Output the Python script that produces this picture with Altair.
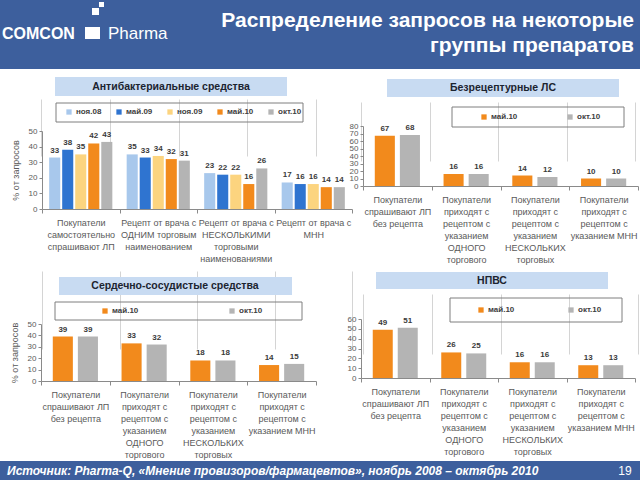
import altair as alt
import pandas as pd

FONT = "Liberation Sans"
BLUE = "#3d5f9d"
TITLE_FILL = "#c8dbf2"
LABEL_GRAY = "#5a5a5a"

# ---------------- data ----------------
ab_cats = [
    "Покупатели\nсамостоятельно\nспрашивают ЛП",
    "Рецепт от врача с\nОДНИМ торговым\nнаименованием",
    "Рецепт от врача с\nНЕСКОЛЬКИМИ\nторговыми\nнаименованиями",
    "Рецепт от врача с\nМНН",
]
ab_series = ["ноя.08", "май.09", "ноя.09", "май.10", "окт.10"]
ab_colors = ["#a8c8ec", "#2f74d0", "#fcd47f", "#f28a1c", "#b4b4b4"]
ab_nov08 = [33, 35, 23, 17]
ab_may09 = [38, 33, 22, 16]
ab_nov09 = [35, 34, 22, 16]
ab_may10 = [42, 32, 16, 14]
ab_oct10 = [43, 31, 26, 14]

pair_cats = [
    "Покупатели\nспрашивают ЛП\nбез рецепта",
    "Покупатели\nприходят с\nрецептом с\nуказанием\nОДНОГО\nторгового",
    "Покупатели\nприходят с\nрецептом с\nуказанием\nНЕСКОЛЬКИХ\nторговых",
    "Покупатели\nприходят с\nрецептом с\nуказанием МНН",
]
pair_series = ["май.10", "окт.10"]
pair_colors = ["#f28a1c", "#b4b4b4"]

otc_may10 = [67, 16, 14, 10]
otc_oct10 = [68, 16, 12, 10]
cv_may10 = [39, 33, 18, 14]
cv_oct10 = [39, 32, 18, 15]
nsaid_may10 = [49, 26, 16, 13]
nsaid_oct10 = [51, 25, 16, 13]

ONE = pd.DataFrame({"k": [0]})


def make_df(cats, series, cols):
    rows = []
    for s, vals in zip(series, cols):
        for c, v in zip(cats, vals):
            rows.append({"cat": c, "ser": s, "val": v})
    return pd.DataFrame(rows)


def rect(x1, x2, y1, y2, **mk):
    return alt.Chart(ONE).mark_rect(**mk).encode(
        x=alt.value(x1), x2=alt.value(x2), y=alt.value(y1), y2=alt.value(y2)
    )


def text(t, x, y, **mk):
    mk.setdefault("font", FONT)
    return alt.Chart(ONE).mark_text(text=t, **mk).encode(x=alt.value(x), y=alt.value(y))


def panel(df, cats, series, colors, xr, yr, ymax, pad_in, pad_out,
          leg_x, leg_y, leg_pad, ytitle=None):
    x = alt.X(
        "cat:N", sort=cats, title=None,
        scale=alt.Scale(range=list(xr), paddingInner=0, paddingOuter=0),
        axis=alt.Axis(
            orient="bottom", offset=yr[0] - 480,
            labelExpr="split(datum.label, '\\n')",
            labelAngle=0, labelFont=FONT, labelFontSize=9, labelColor=LABEL_GRAY,
            labelLineHeight=12, labelPadding=5, labelOverlap=False, labelBound=False,
            labelLimit=300, labelBaseline="top",
            tickBand="extent", grid=True, gridColor="#d4d4d4", gridWidth=1,
            domainColor="#8a8a8a", tickColor="#8a8a8a", tickSize=4,
        ),
    )
    xo = alt.XOffset("ser:N", sort=series,
                     scale=alt.Scale(paddingInner=pad_in, paddingOuter=pad_out))
    y_axis = alt.Axis(
        orient="left", offset=-xr[0], values=list(range(0, ymax + 1, 10)),
        grid=False, labelFont=FONT, labelFontSize=8, labelColor=LABEL_GRAY,
        labelOverlap=False, labelPadding=2, tickSize=3, tickColor="#8a8a8a",
        domainColor="#8a8a8a",
        titleFont=FONT, titleFontSize=9, titleFontWeight="normal",
        titleColor=LABEL_GRAY, titlePadding=8,
    )
    y = alt.Y("val:Q", title=ytitle,
              scale=alt.Scale(domain=[0, ymax], range=[yr[0], yr[1]], nice=False),
              axis=y_axis)
    color = alt.Color(
        "ser:N", sort=series,
        scale=alt.Scale(domain=series, range=colors),
        legend=alt.Legend(
            orient="none", legendX=leg_x, legendY=leg_y, direction="horizontal",
            title=None, symbolType="square", symbolSize=28, symbolStrokeWidth=0,
            labelFont=FONT, labelFontSize=8, labelFontWeight="bold",
            labelColor="#404040", columnPadding=leg_pad, labelOffset=3, padding=0,
        ),
    )
    bars = alt.Chart(df).mark_bar().encode(x=x, xOffset=xo, y=y, color=color)
    vals = alt.Chart(df).mark_text(
        baseline="bottom", dy=-3, font=FONT, fontSize=8, fontWeight="bold", color="#3a3a3a"
    ).encode(x=x, xOffset=xo, y=y, text="val:Q")
    return alt.layer(bars, vals)


ab_df = make_df(ab_cats, ab_series, [ab_nov08, ab_may09, ab_nov09, ab_may10, ab_oct10])
otc_df = make_df(pair_cats, pair_series, [otc_may10, otc_oct10])
cv_df = make_df(pair_cats, pair_series, [cv_may10, cv_oct10])
ns_df = make_df(pair_cats, pair_series, [nsaid_may10, nsaid_oct10])

p_ab = panel(ab_df, ab_cats, ab_series, ab_colors, (42, 352), (209, 131), 50,
             0.15, 0.55, 65, 108, 13, ytitle="% от запросов")
p_otc = panel(otc_df, pair_cats, pair_series, pair_colors, (363, 638), (186, 126), 80,
              0.2, 0.47, 480, 113, 48)
p_cv = panel(cv_df, pair_cats, pair_series, pair_colors, (41, 316), (381, 324), 50,
             0.2, 0.47, 101, 307, 89, ytitle="% от запросов")
p_ns = panel(ns_df, pair_cats, pair_series, pair_colors, (361, 635), (378, 319), 60,
             0.2, 0.47, 477, 306, 52)

decor_back = [
    rect(0, 640, 0, 69, fill=BLUE),
    # logo
    text("COMCON", 2, 34, align="left", baseline="middle", fontSize=16,
         fontWeight="bold", color="white"),
    rect(85, 100, 27, 39, fill="white"),
    rect(92, 99, 8, 15, fill="white"),
    rect(99, 104, 2, 7, fill="white"),
    text("Pharma", 108, 34, align="left", baseline="middle", fontSize=17,
         fontWeight=300, color="white"),
    # title
    text("Распределение запросов на некоторые", 634, 21, align="right",
         baseline="middle", fontSize=21, fontWeight="bold", color="white"),
    text("группы препаратов", 634, 46, align="right", baseline="middle",
         fontSize=21, fontWeight="bold", color="white"),
    # panel title boxes
    rect(55, 287, 77, 96, fill=TITLE_FILL),
    text("Антибактериальные средства", 171, 87, align="center", baseline="middle",
         fontSize=10.5, fontWeight="bold", color="#1c2430"),
    rect(387, 619, 79, 97, fill=TITLE_FILL),
    text("Безрецептурные ЛС", 503, 88, align="center", baseline="middle",
         fontSize=10.5, fontWeight="bold", color="#1c2430"),
    rect(59, 292, 277, 295, fill=TITLE_FILL),
    text("Сердечно-сосудистые средства", 175, 286, align="center", baseline="middle",
         fontSize=10.5, fontWeight="bold", color="#1c2430"),
    rect(376, 608, 272, 289, fill=TITLE_FILL),
    text("НПВС", 492, 281, align="center", baseline="middle",
         fontSize=10.5, fontWeight="bold", color="#1c2430"),
    # legend boxes
    rect(56, 303, 103, 122, fill="white", fillOpacity=0, stroke="#7f7f7f", strokeWidth=1),
    rect(452, 624, 107, 127, fill="white", fillOpacity=0, stroke="#7f7f7f", strokeWidth=1),
    rect(55, 302, 302, 320, fill="white", fillOpacity=0, stroke="#7f7f7f", strokeWidth=1),
    rect(450, 622, 298, 322, fill="white", fillOpacity=0, stroke="#7f7f7f", strokeWidth=1),
]

decor_front = [
    rect(0, 640, 461, 480, fill=BLUE),
    text("Источник: Pharma-Q, «Мнение провизоров/фармацевтов», ноябрь 2008 – октябрь 2010",
         7, 471, align="left", baseline="middle", fontSize=12, fontWeight="bold",
         fontStyle="italic", color="white"),
    text("19", 625, 471, align="center", baseline="middle", fontSize=12, color="white"),
]

chart = (
    alt.layer(*decor_back, p_ab, p_otc, p_cv, p_ns, *decor_front)
    .resolve_scale(x="independent", y="independent", color="independent",
                   xOffset="independent")
    .resolve_axis(x="independent", y="independent")
    .resolve_legend(color="independent")
    .properties(width=640, height=480, padding=0, background="white",
                autosize=alt.AutoSizeParams(type="none"))
    .configure_view(strokeWidth=0)
)

chart.save("out.html", embed_options={"renderer": "svg", "actions": False})
